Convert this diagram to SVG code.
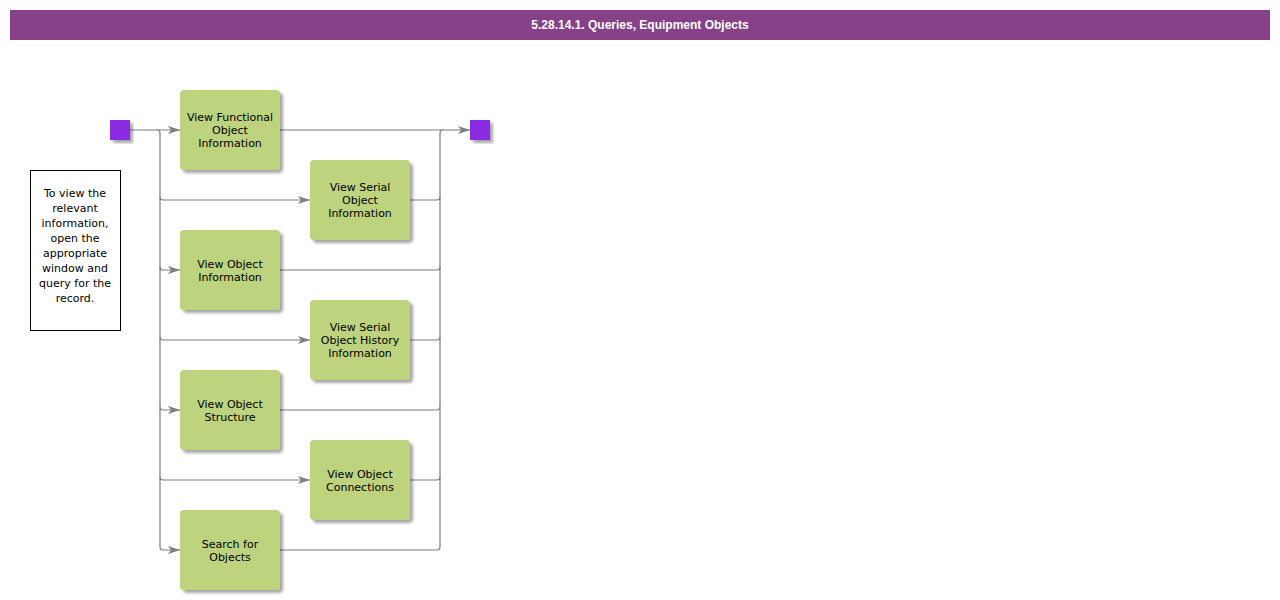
<svg xmlns="http://www.w3.org/2000/svg" width="1280" height="600" viewBox="0 0 1280 600">
<defs>
<marker id="arr" viewBox="0 0 12 10" refX="12" refY="5" markerWidth="12" markerHeight="10" markerUnits="userSpaceOnUse" orient="auto">
<path d="M0,1 L12,5 L0,9 L3,5 Z" fill="#7f7f7f"/>
</marker>
<filter id="sh" x="-10%" y="-10%" width="130%" height="130%">
<feGaussianBlur in="SourceAlpha" stdDeviation="1.5"/>
<feOffset dx="3" dy="3"/>
<feComponentTransfer><feFuncA type="linear" slope="0.35"/></feComponentTransfer>
<feMerge><feMergeNode/><feMergeNode in="SourceGraphic"/></feMerge>
</filter>
</defs>
<style>
.task{fill:#bdd37d;filter:url(#sh)}
.lbl{font-family:"DejaVu Sans",Verdana,sans-serif;font-size:11px;fill:#000000;text-anchor:middle}
.ev{fill:#8a2be2;filter:url(#sh)}
.c{fill:none;stroke:#7f7f7f;stroke-width:1.2}
</style>
<rect x="10" y="10" width="1260" height="30" fill="#874189"/>
<text x="640" y="29" font-family="'Liberation Sans',Arial,sans-serif" font-size="12" font-weight="bold" fill="#ffffff" text-anchor="middle">5.28.14.1. Queries, Equipment Objects</text>

<g id="connectors">
<path class="c" d="M130,130 H180" marker-end="url(#arr)"/>
<path class="c" d="M157,130 Q160,130 160,133 V547 Q160,550 163,550 H180" marker-end="url(#arr)"/>
<path class="c" d="M160,197 Q160,200 163,200 H310" marker-end="url(#arr)"/>
<path class="c" d="M160,267 Q160,270 163,270 H180" marker-end="url(#arr)"/>
<path class="c" d="M160,337 Q160,340 163,340 H310" marker-end="url(#arr)"/>
<path class="c" d="M160,407 Q160,410 163,410 H180" marker-end="url(#arr)"/>
<path class="c" d="M160,477 Q160,480 163,480 H310" marker-end="url(#arr)"/>
<path class="c" d="M280,130 H470" marker-end="url(#arr)"/>
<path class="c" d="M280,550 H437 Q440,550 440,547 V133 Q440,130 443,130"/>
<path class="c" d="M410,200 H437 Q440,200 440,197"/>
<path class="c" d="M280,270 H437 Q440,270 440,267"/>
<path class="c" d="M410,340 H437 Q440,340 440,337"/>
<path class="c" d="M280,410 H437 Q440,410 440,407"/>
<path class="c" d="M410,480 H437 Q440,480 440,477"/>
</g>

<g id="start"><rect class="ev" x="110" y="120" width="20" height="20"/></g>
<g id="end"><rect class="ev" x="470" y="120" width="20" height="20"/></g>

<g id="note">
<rect x="30.5" y="170.5" width="90" height="160" fill="#ffffff" stroke="#000000" stroke-width="1"/>
<text class="lbl" x="75" y="197"><tspan x="75">To view the</tspan><tspan x="75" dy="15">relevant</tspan><tspan x="75" dy="15">information,</tspan><tspan x="75" dy="15">open the</tspan><tspan x="75" dy="15">appropriate</tspan><tspan x="75" dy="15">window and</tspan><tspan x="75" dy="15">query for the</tspan><tspan x="75" dy="15">record.</tspan></text>
</g>

<g id="n1"><rect class="task" x="180" y="90" width="100" height="80" rx="4"/>
<text class="lbl" x="230" y="121"><tspan x="230">View Functional</tspan><tspan x="230" dy="13">Object</tspan><tspan x="230" dy="13">Information</tspan></text></g>
<g id="n2"><rect class="task" x="310" y="160" width="100" height="80" rx="4"/>
<text class="lbl" x="360" y="191"><tspan x="360">View Serial</tspan><tspan x="360" dy="13">Object</tspan><tspan x="360" dy="13">Information</tspan></text></g>
<g id="n3"><rect class="task" x="180" y="230" width="100" height="80" rx="4"/>
<text class="lbl" x="230" y="268"><tspan x="230">View Object</tspan><tspan x="230" dy="13">Information</tspan></text></g>
<g id="n4"><rect class="task" x="310" y="300" width="100" height="80" rx="4"/>
<text class="lbl" x="360" y="331"><tspan x="360">View Serial</tspan><tspan x="360" dy="13">Object History</tspan><tspan x="360" dy="13">Information</tspan></text></g>
<g id="n5"><rect class="task" x="180" y="370" width="100" height="80" rx="4"/>
<text class="lbl" x="230" y="408"><tspan x="230">View Object</tspan><tspan x="230" dy="13">Structure</tspan></text></g>
<g id="n6"><rect class="task" x="310" y="440" width="100" height="80" rx="4"/>
<text class="lbl" x="360" y="478"><tspan x="360">View Object</tspan><tspan x="360" dy="13">Connections</tspan></text></g>
<g id="n7"><rect class="task" x="180" y="510" width="100" height="80" rx="4"/>
<text class="lbl" x="230" y="548"><tspan x="230">Search for</tspan><tspan x="230" dy="13">Objects</tspan></text></g>
</svg>
